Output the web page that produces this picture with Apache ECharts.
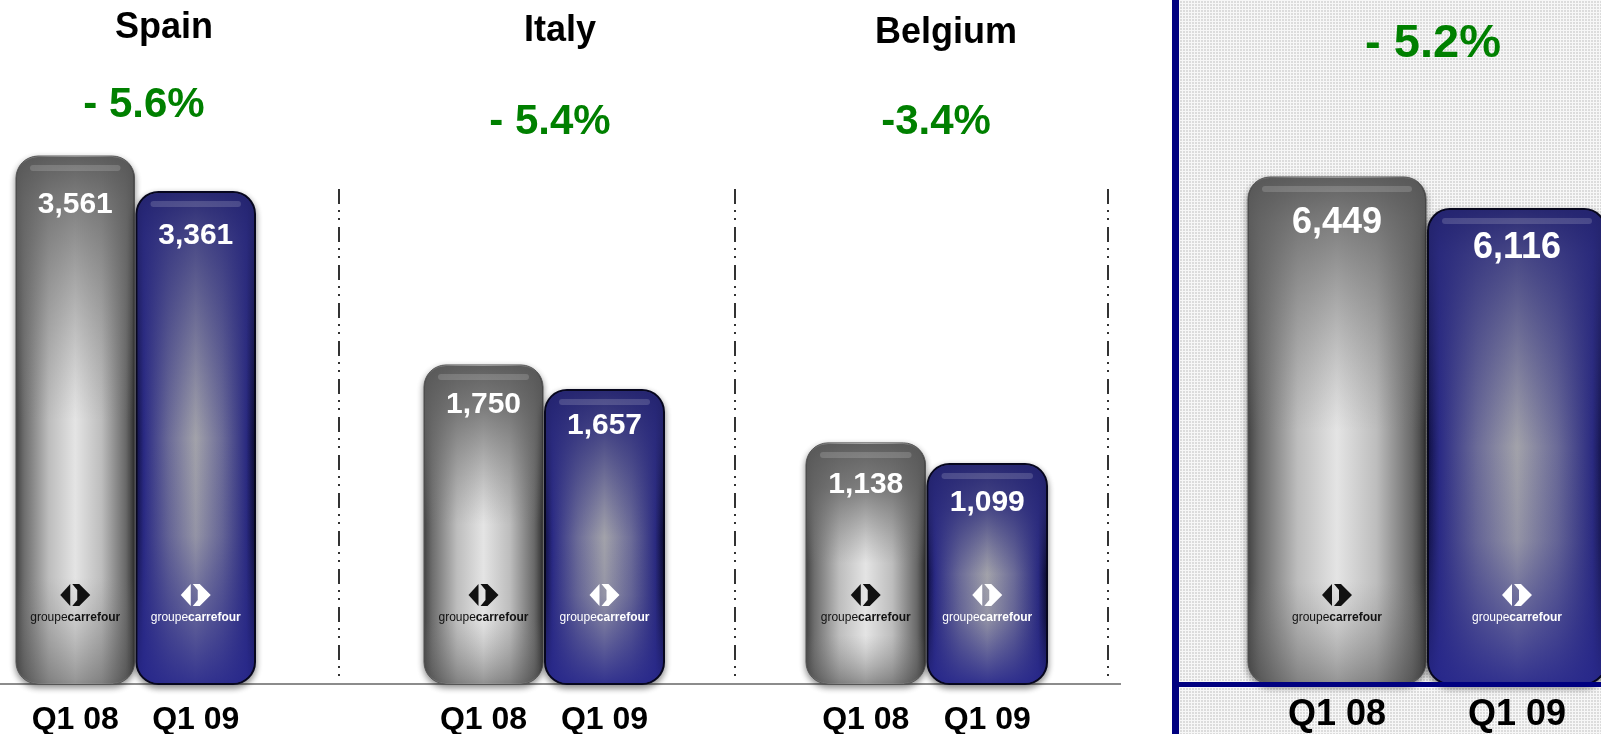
<!DOCTYPE html>
<html><head><meta charset="utf-8">
<script src="https://cdn.jsdelivr.net/npm/echarts/dist/echarts.min.js"></script>
<style>html,body{margin:0;padding:0;background:#fff}#c{width:1601px;height:734px}</style>
</head><body><div id="c"></div>
<script>
// ---- data ----
const categories = ['Q1 08', 'Q1 09'];
const panels = ['Spain', 'Italy', 'Belgium', ''];
const q108 = [3561, 1750, 1138, 6449];
const q109 = [3361, 1657, 1099, 6116];
const changes = ['- 5.6%', '- 5.4%', '-3.4%', '- 5.2%'];

// ---- layout (not data) ----
const gridLeft = [15, 423, 805, 1247];
const gridWidth = [241, 242, 243, 360];
const axisMin = [628, 563, 690, 1173];
const axisMax = [4428, 3108, 1961, 8291];
const titleX = [164, 560, 946, 0];
const titleY = [28, 31, 33, 0];
const changeX = [144, 550, 936, 1433];
const changeY = [105, 122, 122, 44];
const changeSize = [42, 42, 42, 47];
const labOffGray = [49, 40, 42, 46];
const labOffBlue = [44, 36, 39, 39];

const chart = echarts.init(document.getElementById('c'), null, {renderer: 'canvas'});

// dotted background pattern for the total panel
const pc = document.createElement('canvas');
pc.width = 3; pc.height = 3;
const pctx = pc.getContext('2d');
pctx.fillStyle = '#dcdcdc'; pctx.fillRect(0, 0, 3, 3);
pctx.fillStyle = '#f7f7f7'; pctx.fillRect(0, 0, 3, 1); pctx.fillRect(0, 0, 1, 3);

function lg(x0, y0, x1, y1, stops) {
  return {type: 'linear', x: x0, y: y0, x2: x1, y2: y1, global: false,
    colorStops: stops.map(s => ({offset: s[0], color: s[1]}))};
}

function makeRender(pi) {
  return function (params, api) {
    const ci = api.value(0), v = api.value(1);
    const pt = api.coord([ci, v]);
    const band = api.size([1, 0])[0];
    const cs = params.coordSys;
    const bottom = cs.y + cs.height;
    const w = band - 2;
    const x = pt[0] - w / 2, top = pt[1], h = bottom - top;
    const big = pi === 3;
    const blue = ci === 1;
    const r = 22;
    const t1 = Math.min(0.3, 44 / h);
    const kids = [];
    kids.push({type: 'rect', shape: {x: x, y: top, width: w, height: h, r: r},
      style: {
        fill: blue
          ? lg(0, 0, 1, 0, [[0, '#12124a'], [0.07, '#2a2a84'], [0.28, '#6c6c98'], [0.5, '#a2a2aa'], [0.72, '#6c6c98'], [0.92, '#2a2a80'], [1, '#0a0a30']])
          : lg(0, 0, 1, 0, [[0, '#474747'], [0.07, '#6c6c6c'], [0.28, '#bdbdbd'], [0.5, '#e4e4e4'], [0.72, '#bdbdbd'], [0.92, '#6a6a6a'], [1, '#383838']]),
        stroke: blue ? '#07071e' : '#555', lineWidth: blue ? 2 : 1,
        shadowBlur: 6, shadowOffsetY: 3, shadowColor: 'rgba(0,0,0,0.45)'
      }});
    kids.push({type: 'rect', shape: {x: x + 1, y: top + 1, width: w - 2, height: h - 2, r: r - 1},
      style: {
        fill: blue
          ? lg(0, 0, 0, 1, [[0, 'rgba(36,36,112,0.95)'], [t1, 'rgba(42,42,122,0.75)'], [0.5, 'rgba(50,50,130,0)'], [0.7, 'rgba(45,45,135,0.12)'], [1, 'rgba(40,40,140,0.9)']])
          : lg(0, 0, 0, 1, [[0, 'rgba(88,88,88,0.94)'], [t1, 'rgba(98,98,98,0.78)'], [0.5, 'rgba(120,120,120,0)'], [0.8, 'rgba(120,120,120,0)'], [1, 'rgba(70,70,70,0.5)']])
      }});
    kids.push({type: 'rect', shape: {x: x + 14, y: top + 9, width: w - 28, height: 6, r: 3},
      style: {fill: 'rgba(255,255,255,0.16)'}});
    kids.push({type: 'text', style: {
      text: v.toLocaleString('en-US'), x: pt[0], y: top + (blue ? labOffBlue[pi] : labOffGray[pi]),
      align: 'center', verticalAlign: 'middle', textAlign: 'center', textVerticalAlign: 'middle',
      fill: '#fff', font: 'bold ' + (big ? 36 : 30) + 'px Arial, "Liberation Sans", sans-serif'
    }});
    // logo
    const lc = blue ? '#ffffff' : '#111111';
    const cx = pt[0], cy = bottom - 89;
    kids.push({type: 'polygon', shape: {points: [[cx - 15, cy], [cx - 5, cy - 11], [cx - 5, cy + 11]]}, style: {fill: lc}});
    kids.push({type: 'polygon', shape: {points: [[cx - 3, cy - 11], [cx + 4, cy - 11], [cx + 15, cy], [cx + 4, cy + 11], [cx - 3, cy + 11], [cx + 2, cy + 5], [cx + 2, cy - 5]]}, style: {fill: lc}});
    kids.push({type: 'text', style: {
      text: '{a|groupe}{b|carrefour}', x: cx, y: bottom - 66,
      align: 'center', verticalAlign: 'middle', textAlign: 'center', textVerticalAlign: 'middle',
      fill: lc, font: '12px Arial, "Liberation Sans", sans-serif',
      rich: {a: {fill: lc, fontSize: 12, fontFamily: 'Arial'}, b: {fill: lc, fontSize: 12, fontWeight: 'bold', fontFamily: 'Arial'}}
    }});
    return {type: 'group', children: kids};
  };
}

const grids = [], xAxes = [], yAxes = [], series = [];
for (let i = 0; i < 4; i++) {
  grids.push({left: gridLeft[i], width: gridWidth[i], top: 0, bottom: 50, containLabel: false, outerBoundsMode: 'none'});
  const big = i === 3;
  xAxes.push({type: 'category', gridIndex: i, data: categories,
    axisLine: {show: false}, axisTick: {show: false}, splitLine: {show: false},
    axisLabel: {color: '#000', fontWeight: 'bold', fontFamily: 'Arial, "Liberation Sans", sans-serif',
      fontSize: big ? 36 : 32, margin: big ? 13 : 20, interval: 0}});
  yAxes.push({type: 'value', gridIndex: i, min: axisMin[i], max: axisMax[i], show: false, splitLine: {show: false}});
  series.push({type: 'custom', xAxisIndex: i, yAxisIndex: i, clip: false, z: 5,
    encode: {x: 0, y: 1},
    data: [[0, q108[i]], [1, q109[i]]],
    renderItem: makeRender(i)});
}

const graphics = [];
graphics.push({type: 'rect', z: -10, shape: {x: 1176, y: 0, width: 430, height: 734},
  style: {fill: {image: pc, repeat: 'repeat'}}});
graphics.push({type: 'rect', z: 20, shape: {x: 1172, y: 0, width: 7, height: 734}, style: {fill: '#000080'}});
graphics.push({type: 'rect', z: 20, shape: {x: 1176, y: 682, width: 430, height: 5}, style: {fill: '#000080'}});
graphics.push({type: 'line', z: 1, shape: {x1: 0, y1: 684, x2: 1121, y2: 684}, style: {stroke: '#666', lineWidth: 1.5}});
[339, 735, 1108].forEach(function (sx) {
  graphics.push({type: 'line', z: 1, shape: {x1: sx, y1: 189, x2: sx, y2: 682},
    style: {stroke: '#000', lineWidth: 1.6, lineDash: [15, 6, 2, 6, 2, 7]}});
});
for (let i = 0; i < 4; i++) {
  if (panels[i]) {
    graphics.push({type: 'text', z: 30, x: titleX[i], y: titleY[i], style: {
      text: panels[i], font: 'bold 36px Arial, "Liberation Sans", sans-serif', fill: '#000',
      align: 'center', verticalAlign: 'middle', textAlign: 'center', textVerticalAlign: 'middle'}});
  }
  graphics.push({type: 'text', z: 30, x: changeX[i], y: changeY[i], style: {
    text: changes[i], font: 'bold ' + changeSize[i] + 'px Arial, "Liberation Sans", sans-serif', fill: '#008000',
    align: 'center', verticalAlign: 'middle', textAlign: 'center', textVerticalAlign: 'middle'}});
}

chart.setOption({
  animation: false,
  backgroundColor: '#fff',
  grid: grids, xAxis: xAxes, yAxis: yAxes, series: series,
  graphic: {elements: graphics}
});
</script>
</body></html>
